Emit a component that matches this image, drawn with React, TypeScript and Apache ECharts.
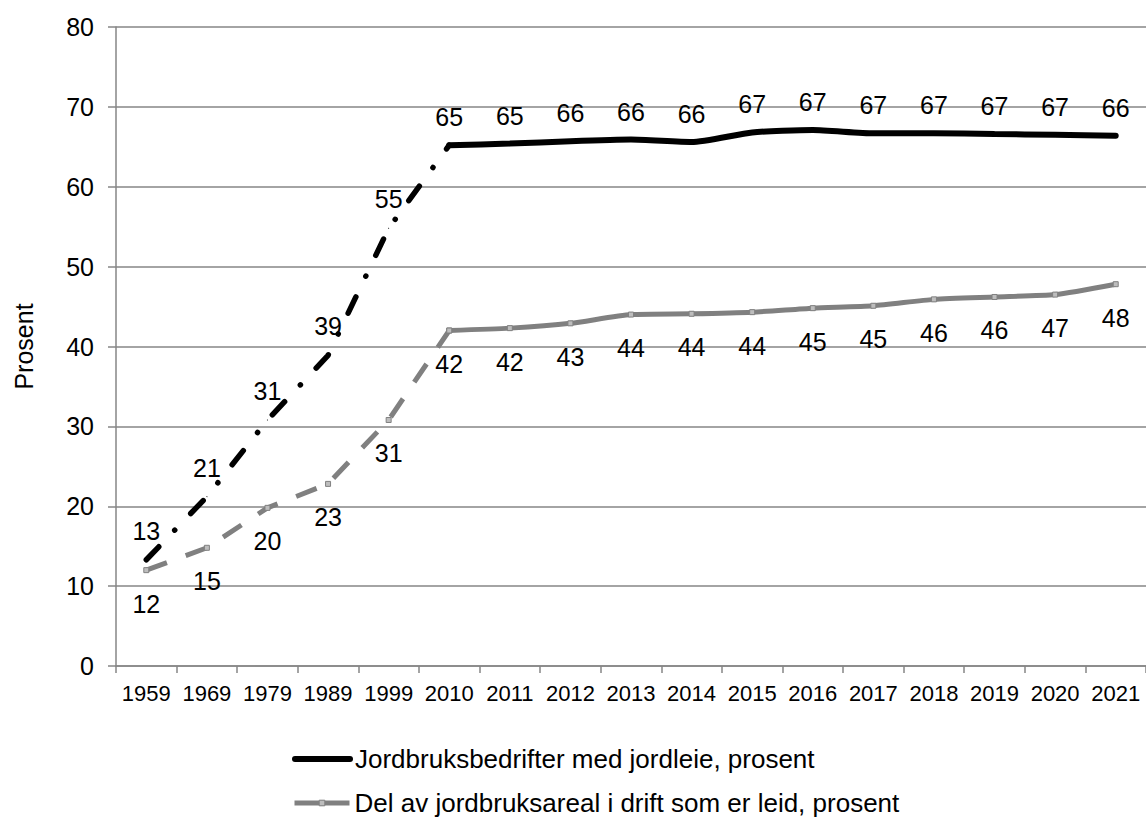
import React, { useEffect, useRef } from 'react';
import * as echarts from 'echarts';

const years = ['1959', '1969', '1979', '1989', '1999', '2010', '2011', '2012', '2013', '2014', '2015', '2016', '2017', '2018', '2019', '2020', '2021'];
const farmsWithLease = [13.3, 21.2, 30.8, 38.9, 54.8, 65.2, 65.4, 65.7, 65.9, 65.6, 66.8, 67.1, 66.7, 66.7, 66.6, 66.5, 66.4];
const leasedAreaShare = [12.0, 14.8, 19.8, 22.8, 30.8, 42.0, 42.3, 42.9, 44.0, 44.1, 44.3, 44.8, 45.1, 45.9, 46.2, 46.5, 47.8];
const FARMS_NAME = 'Jordbruksbedrifter med jordleie, prosent';
const AREA_NAME = 'Del av jordbruksareal i drift som er leid, prosent';
const Y_NAME = 'Prosent';
const splitIndex = 5; // first annual observation (2010); earlier points are census years

const FONT = '"Liberation Sans", Arial, sans-serif';
const GRID_GRAY = '#868686';
const AREA_GRAY = '#808080';

export default function App() {
  const ref = useRef<HTMLDivElement>(null);

  useEffect(() => {
    document.body.style.margin = '0';
    if (!ref.current) return;
    const chart = echarts.init(ref.current, null, { renderer: 'svg' });

    const early = (arr: number[]) => arr.map((v, i) => (i <= splitIndex ? v : null));
    const late = (arr: number[]) => arr.map((v, i) => (i >= splitIndex ? v : null));
    const fmt = (p: any) => String(Math.round(p.value));
    const fmtEarly = (p: any) => (p.dataIndex === splitIndex ? '' : String(Math.round(p.value)));

    const labelBase = { show: true, color: '#000', fontSize: 25, fontFamily: FONT };

    const blackItem = { color: '#000' };
    const grayItem = { color: '#bdbdbd', borderColor: AREA_GRAY, borderWidth: 1 };

    const legendBase = {
      orient: 'horizontal',
      left: 287,
      itemWidth: 55,
      itemHeight: 7,
      textStyle: { fontSize: 26, color: '#000', fontFamily: FONT },
      selectedMode: false,
    };

    chart.setOption({
      animation: false,
      textStyle: { fontFamily: FONT },
      grid: { left: 116, top: 27, width: 1032, height: 639, containLabel: false },
      legend: [
        {
          ...legendBase,
          top: 741,
          data: [{ name: FARMS_NAME, lineStyle: { width: 6, color: '#000', type: 'solid' }, itemStyle: { color: '#000' } }],
        },
        {
          ...legendBase,
          top: 785,
          data: [{ name: AREA_NAME, lineStyle: { width: 5, color: AREA_GRAY, type: 'solid' }, itemStyle: grayItem }],
        },
      ],
      xAxis: {
        type: 'category',
        data: years,
        boundaryGap: true,
        axisLine: { lineStyle: { color: GRID_GRAY, width: 1.5 } },
        axisTick: { show: true, length: 7, lineStyle: { color: GRID_GRAY, width: 1.5 } },
        axisLabel: { interval: 0, color: '#000', fontSize: 22, margin: 16, fontFamily: FONT },
        splitLine: { show: false },
      },
      yAxis: {
        type: 'value',
        min: 0,
        max: 80,
        interval: 10,
        name: Y_NAME,
        nameLocation: 'middle',
        nameRotate: 90,
        nameGap: 80,
        nameTextStyle: { fontSize: 25, color: '#000', fontFamily: FONT },
        axisLine: { show: true, lineStyle: { color: GRID_GRAY, width: 1.5 } },
        axisTick: { show: true, length: 8, lineStyle: { color: GRID_GRAY, width: 1.5 } },
        axisLabel: { color: '#000', fontSize: 25, margin: 22, fontFamily: FONT },
        splitLine: { show: true, lineStyle: { color: GRID_GRAY, width: 1.5 } },
      },
      series: [
        {
          name: AREA_NAME + ' (tellinger)',
          type: 'line',
          data: early(leasedAreaShare),
          symbol: 'rect',
          symbolSize: 5,
          showSymbol: true,
          itemStyle: grayItem,
          lineStyle: { color: AREA_GRAY, width: 5, type: [22, 20], cap: 'butt' },
          label: { ...labelBase, position: 'bottom', distance: 18, formatter: fmtEarly },
          z: 2,
        },
        {
          name: AREA_NAME,
          type: 'line',
          data: late(leasedAreaShare),
          symbol: 'rect',
          symbolSize: 5,
          showSymbol: true,
          smooth: 0.2,
          itemStyle: grayItem,
          lineStyle: { color: AREA_GRAY, width: 5 },
          label: { ...labelBase, position: 'bottom', distance: 18, formatter: fmt },
          z: 2,
        },
        {
          name: FARMS_NAME + ' (tellinger)',
          type: 'line',
          data: early(farmsWithLease),
          symbol: 'circle',
          symbolSize: 1,
          showSymbol: true,
          itemStyle: blackItem,
          lineStyle: { color: '#000', width: 5.5, type: [18, 23, 0.1, 23], cap: 'round' },
          label: { ...labelBase, position: 'top', distance: 16, formatter: fmtEarly },
          z: 3,
        },
        {
          name: FARMS_NAME,
          type: 'line',
          data: late(farmsWithLease),
          symbol: 'circle',
          symbolSize: 1,
          showSymbol: true,
          smooth: 0.2,
          itemStyle: blackItem,
          lineStyle: { color: '#000', width: 6, cap: 'round' },
          label: { ...labelBase, position: 'top', distance: 15, formatter: fmt },
          z: 3,
        },
      ],
    });

    return () => chart.dispose();
  }, []);

  return <div ref={ref} style={{ width: 1146, height: 818 }} />;
}
